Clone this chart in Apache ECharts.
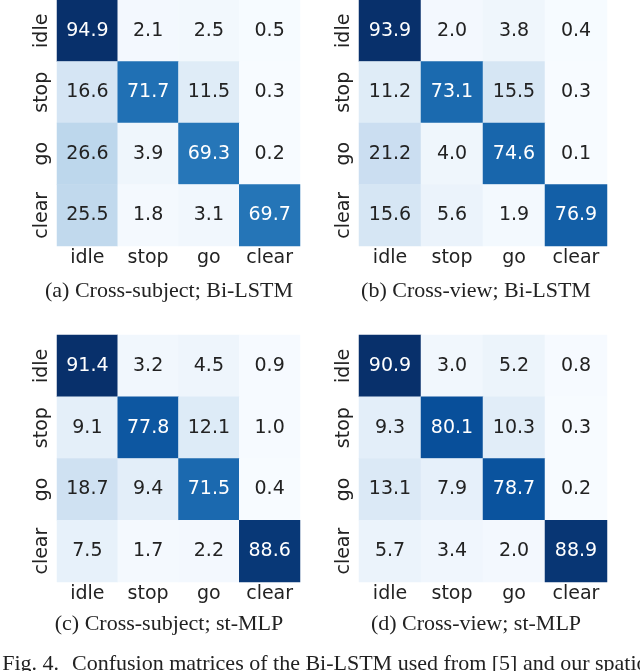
<!DOCTYPE html>
<html><head><meta charset="utf-8">
<script src="https://cdn.jsdelivr.net/npm/echarts@6/dist/echarts.min.js"></script>
<style>html,body{margin:0;padding:0;background:#fff}#c{width:640px;height:671px}</style>
</head><body><div id="c"></div>
<script>
const classes = ['idle', 'stop', 'go', 'clear'];
const matA = [[94.9, 2.1, 2.5, 0.5],[16.6, 71.7, 11.5, 0.3],[26.6, 3.9, 69.3, 0.2],[25.5, 1.8, 3.1, 69.7]];
const matB = [[93.9, 2.0, 3.8, 0.4],[11.2, 73.1, 15.5, 0.3],[21.2, 4.0, 74.6, 0.1],[15.6, 5.6, 1.9, 76.9]];
const matC = [[91.4, 3.2, 4.5, 0.9],[9.1, 77.8, 12.1, 1.0],[18.7, 9.4, 71.5, 0.4],[7.5, 1.7, 2.2, 88.6]];
const matD = [[90.9, 3.0, 5.2, 0.8],[9.3, 80.1, 10.3, 0.3],[13.1, 7.9, 78.7, 0.2],[5.7, 3.4, 2.0, 88.9]];
const captions = ['(a) Cross-subject; Bi-LSTM', '(b) Cross-view; Bi-LSTM', '(c) Cross-subject; st-MLP', '(d) Cross-view; st-MLP'];
const figLabel = 'Fig. 4.';
const figText = 'Confusion matrices of the Bi-LSTM used from [5] and our spatio';

const mats = [matA, matB, matC, matD];
const grids = [
  {left: 57, top: 0, width: 243, height: 246},
  {left: 359, top: 0, width: 248, height: 246},
  {left: 57, top: 335, width: 243, height: 247},
  {left: 359, top: 335, width: 248, height: 247}
];
const blues = ['#f7fbff','#deebf7','#c6dbef','#9ecae1','#6baed6','#4292c6','#2171b5','#08519c','#08306b'];
const capX = [169, 476, 169, 476];
const capY = [291, 291, 624, 624];

const option = {
  animation: false,
  grid: grids,
  xAxis: grids.map((g, i) => ({
    type: 'category', gridIndex: i, data: classes,
    axisLine: {show: false}, axisTick: {show: false}, splitLine: {show: false},
    axisLabel: {interval: 0, hideOverlap: false, fontFamily: 'DejaVu Sans', fontSize: 19, color: '#222', margin: 3}
  })),
  yAxis: grids.map((g, i) => ({
    type: 'category', gridIndex: i, data: classes, inverse: true,
    axisLine: {show: false}, axisTick: {show: false}, splitLine: {show: false},
    axisLabel: {interval: 0, hideOverlap: false, fontFamily: 'DejaVu Sans', fontSize: 19, color: '#222', rotate: 90, margin: 5}
  })),
  visualMap: mats.map((m, i) => {
    const flat = m.flat();
    return {type: 'continuous', show: false, seriesIndex: i, dimension: 2,
      min: Math.min(...flat), max: Math.max(...flat), inRange: {color: blues}};
  }),
  series: mats.map((m, i) => {
    const flat = m.flat();
    const mn = Math.min(...flat), mx = Math.max(...flat);
    const data = [];
    m.forEach((row, r) => row.forEach((v, c) => {
      const t = (v - mn) / (mx - mn);
      data.push({value: [c, r, v], label: {color: t > 0.55 ? '#ffffff' : '#222222'}});
    }));
    return {
      type: 'heatmap', xAxisIndex: i, yAxisIndex: i, data: data,
      itemStyle: {borderWidth: 0},
      label: {show: true, fontFamily: 'DejaVu Sans', fontSize: 19,
        formatter: p => p.value[2].toFixed(1)},
      emphasis: {disabled: true}
    };
  }),
  graphic: captions.map((t, i) => ({
    type: 'text', x: capX[i], y: capY[i],
    style: {text: t, font: '22px "Liberation Serif"', fill: '#222', align: 'center', verticalAlign: 'middle'}
  })).concat([{
    type: 'text', x: 59, y: 664,
    style: {text: figLabel, font: '22px "Liberation Serif"', fill: '#222', align: 'right', verticalAlign: 'middle'}
  }, {
    type: 'text', x: 72, y: 664,
    style: {text: figText, font: '22px "Liberation Serif"', fill: '#222', align: 'left', verticalAlign: 'middle'}
  }])
};
echarts.init(document.getElementById('c')).setOption(option);
</script></body></html>
